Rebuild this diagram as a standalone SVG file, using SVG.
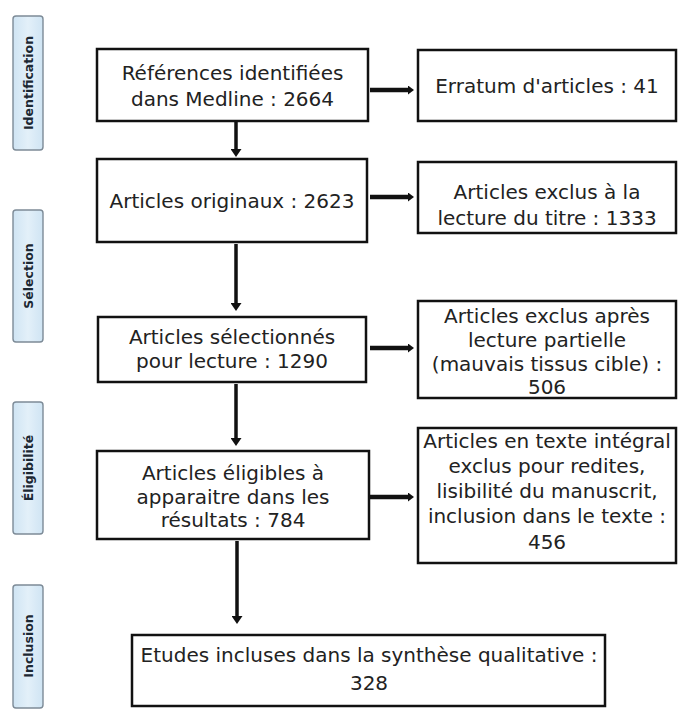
<svg xmlns="http://www.w3.org/2000/svg" width="678" height="720" viewBox="0 0 678 720">
<style>
.box{fill:#fff;stroke:#111;stroke-width:2.5}
.t{font-family:"DejaVu Sans",sans-serif;font-size:20px;fill:#222;text-anchor:middle}
.side{fill:url(#sg);stroke:#7d8b97;stroke-width:1.4}
.st{font-family:"DejaVu Sans",sans-serif;font-size:12.5px;font-weight:bold;fill:#1c2833;text-anchor:middle}
.av{stroke:#111;stroke-width:3.5;fill:none}
.ah{stroke:#111;stroke-width:4.5;fill:none}
</style>
<defs>
<linearGradient id="sg" x1="0" y1="0" x2="1" y2="0">
<stop offset="0" stop-color="#cfe4f3"/>
<stop offset="0.5" stop-color="#e3f0f9"/>
<stop offset="1" stop-color="#cfe4f3"/>
</linearGradient>
<marker id="mv" markerUnits="userSpaceOnUse" markerWidth="11" markerHeight="11" viewBox="0 0 8 11" refX="0" refY="5.5" orient="auto">
<path d="M0,0 L8,5.5 L0,11 z" fill="#111"/>
</marker>
<marker id="mh" markerUnits="userSpaceOnUse" markerWidth="9" markerHeight="9" viewBox="0 0 6 9" refX="0" refY="4.5" orient="auto">
<path d="M0,0 L6,4.5 L0,9 z" fill="#111"/>
</marker>
</defs>
<rect width="678" height="720" fill="#fff"/>

<g id="side-identification">
<rect class="side" x="13" y="16" width="30" height="134" rx="3"/>
<text class="st" transform="translate(32.5,83) rotate(-90)">Identification</text>
</g>
<g id="side-selection">
<rect class="side" x="13" y="210" width="30" height="132" rx="3"/>
<text class="st" transform="translate(32.5,276) rotate(-90)">Sélection</text>
</g>
<g id="side-eligibilite">
<rect class="side" x="13" y="402" width="30" height="132" rx="3"/>
<text class="st" transform="translate(32.5,468) rotate(-90)">Éligibilité</text>
</g>
<g id="side-inclusion">
<rect class="side" x="13" y="585" width="30" height="123" rx="3"/>
<text class="st" transform="translate(32.5,646) rotate(-90)">Inclusion</text>
</g>

<g id="connectors">
<line class="av" x1="236" y1="122" x2="236" y2="149" marker-end="url(#mv)"/>
<line class="av" x1="236" y1="244" x2="236" y2="303" marker-end="url(#mv)"/>
<line class="av" x1="236" y1="384" x2="236" y2="438" marker-end="url(#mv)"/>
<line class="av" x1="237" y1="541" x2="237" y2="616" marker-end="url(#mv)"/>
<line class="ah" x1="370" y1="90" x2="408" y2="90" marker-end="url(#mh)"/>
<line class="ah" x1="370" y1="197" x2="408" y2="197" marker-end="url(#mh)"/>
<line class="ah" x1="370" y1="348" x2="408" y2="348" marker-end="url(#mh)"/>
<line class="ah" x1="370" y1="497" x2="408" y2="497" marker-end="url(#mh)"/>
</g>

<g id="n1">
<rect class="box" x="97" y="49" width="271" height="72"/>
<text class="t" x="232.5" y="80">Références identifiées</text>
<text class="t" x="232.5" y="106">dans Medline : 2664</text>
</g>
<g id="n2">
<rect class="box" x="97" y="159" width="270" height="83"/>
<text class="t" x="232" y="208">Articles originaux : 2623</text>
</g>
<g id="n3">
<rect class="box" x="98" y="317" width="268" height="65"/>
<text class="t" x="232" y="344">Articles sélectionnés</text>
<text class="t" x="232" y="368">pour lecture : 1290</text>
</g>
<g id="n4">
<rect class="box" x="97" y="451" width="272" height="88"/>
<text class="t" x="233" y="480">Articles éligibles à</text>
<text class="t" x="233" y="504">apparaitre dans les</text>
<text class="t" x="233" y="527">résultats : 784</text>
</g>
<g id="n5">
<rect class="box" x="132" y="635" width="473" height="71"/>
<text class="t" x="369" y="662">Etudes incluses dans la synthèse qualitative :</text>
<text class="t" x="369" y="690">328</text>
</g>
<g id="e1">
<rect class="box" x="418" y="50" width="258" height="71"/>
<text class="t" x="547" y="93">Erratum d'articles : 41</text>
</g>
<g id="e2">
<rect class="box" x="418" y="162" width="258" height="71"/>
<text class="t" x="547" y="199">Articles exclus à la</text>
<text class="t" x="547" y="225">lecture du titre : 1333</text>
</g>
<g id="e3">
<rect class="box" x="418" y="301" width="258" height="97"/>
<text class="t" x="547" y="323">Articles exclus après</text>
<text class="t" x="547" y="347">lecture partielle</text>
<text class="t" x="547" y="371">(mauvais tissus cible) :</text>
<text class="t" x="547" y="394">506</text>
</g>
<g id="e4">
<rect class="box" x="418" y="428" width="258" height="135"/>
<text class="t" x="547" y="448">Articles en texte intégral</text>
<text class="t" x="547" y="473">exclus pour redites,</text>
<text class="t" x="547" y="498">lisibilité du manuscrit,</text>
<text class="t" x="547" y="523">inclusion dans le texte :</text>
<text class="t" x="547" y="549">456</text>
</g>
</svg>
